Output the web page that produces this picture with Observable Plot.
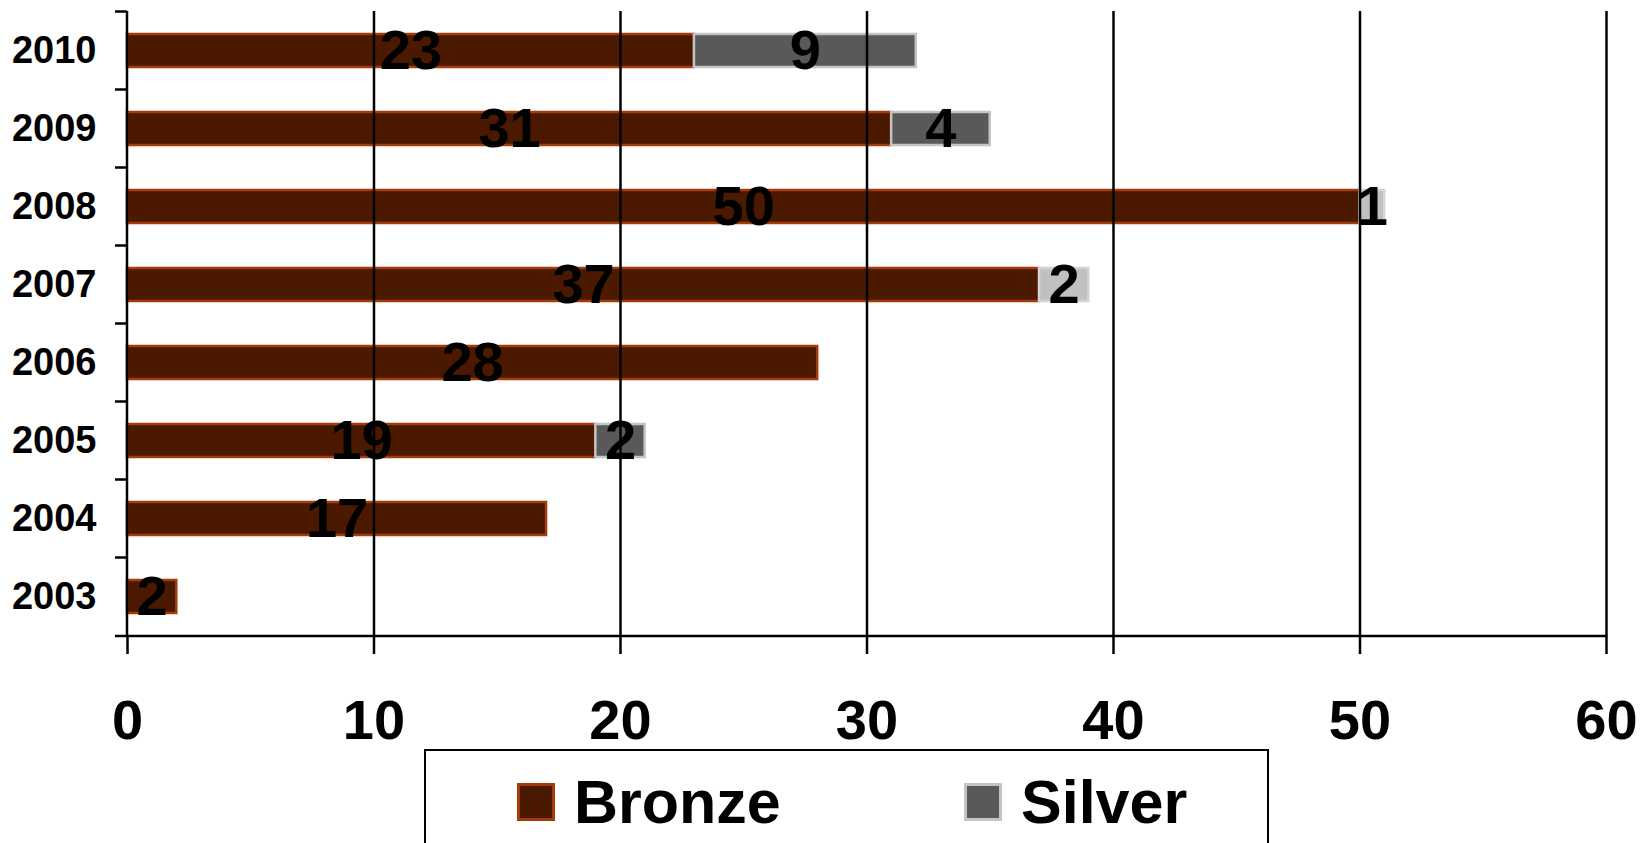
<!DOCTYPE html>
<html>
<head>
<meta charset="utf-8">
<script src="https://cdn.jsdelivr.net/npm/d3@7"></script>
<script src="https://cdn.jsdelivr.net/npm/@observablehq/plot@0.6"></script>
<style>
  html, body { margin: 0; padding: 0; background: #fff; overflow: hidden; }
  body { width: 1648px; height: 843px; position: relative; font-family: "Liberation Sans", Arial, sans-serif; }
  #chart svg { display: block; overflow: visible; }
  #legend { position: absolute; left: 424px; top: 749px; width: 841px; height: 120px; border: 2px solid #000; background: #fff; }
  .item { position: absolute; top: 16px; display: flex; align-items: center; font-weight: bold; font-size: 61px; color: #000; }
  .sw { width: 32px; height: 32px; margin-right: 19px; box-sizing: content-box; }
</style>
</head>
<body>
<div id="chart"></div>
<div id="legend">
  <div class="item" style="left:91px"><span class="sw" style="background:#4b1900;border:3px solid #a33b0a"></span>Bronze</div>
  <div class="item" style="left:538px"><span class="sw" style="background:#595959;border:3px solid #c4c4c4"></span>Silver</div>
</div>
<script>
const years = ["2010", "2009", "2008", "2007", "2006", "2005", "2004", "2003"];
const bronze = [23, 31, 50, 37, 28, 19, 17, 2];
const silver = [9, 4, 1, 2, 0, 2, 0, 0];
const seriesNames = ["Bronze", "Silver"];
const xTicks = [0, 10, 20, 30, 40, 50, 60];

// style constants
const lightSilverYears = ["2008", "2007"];
const fills = {Bronze: "#4b1900", Silver: "#595959", SilverLight: "#c0c0c0"};
const strokes = {Bronze: "#a33b0a", Silver: "#c4c4c4", SilverLight: "#d4d4d4"};

const data = [];
years.forEach((y, i) => {
  data.push({year: y, series: "Bronze", value: bronze[i]});
  data.push({year: y, series: "Silver", value: silver[i]});
});
const shown = data.filter(d => d.value > 0);
const key = d => d.series === "Silver" && lightSilverYears.includes(d.year) ? "SilverLight" : d.series;

function frameLines(index, scales, values, dims) {
  const y = scales.y, x = scales.x;
  const step = y.step(), bw = y.bandwidth();
  const x0 = x(0), xEnd = x(xTicks[xTicks.length - 1]);
  const top = dims.marginTop, bottom = dims.height - dims.marginBottom;
  const g = d3.create("svg:g").attr("stroke", "#000").attr("stroke-width", 2.5).attr("fill", "none");
  y.domain().forEach(yr => {
    const b = y(yr) + bw / 2 - step / 2;
    g.append("line").attr("x1", x0 - 12).attr("x2", x0).attr("y1", b).attr("y2", b);
  });
  g.append("line").attr("x1", x0 - 12).attr("x2", xEnd).attr("y1", bottom).attr("y2", bottom);
  g.append("line").attr("x1", x0).attr("x2", x0).attr("y1", top).attr("y2", bottom);
  return g.node();
}

const chart = Plot.plot({
  width: 1648,
  height: 749,
  marginLeft: 127,
  marginRight: 42,
  marginTop: 11,
  marginBottom: 113,
  style: {background: "#fff", color: "#000", fontFamily: "'Liberation Sans', Arial, sans-serif"},
  x: {domain: [0, 60], label: null},
  y: {domain: years, paddingInner: 0.58, paddingOuter: 0.29, label: null},
  marks: [
    Plot.barX(shown, Plot.stackX({
      x: "value", y: "year", z: "series",
      fill: d => fills[key(d)], stroke: d => strokes[key(d)], strokeWidth: 2.5
    })),
    Plot.gridX(xTicks.slice(1), {stroke: "#000", strokeOpacity: 1, strokeWidth: 2.5}),
    frameLines,
    Plot.text(shown, Plot.stackX({
      x: "value", y: "year", z: "series", text: d => String(d.value),
      fontSize: 56, fontWeight: "bold", fill: "#000"
    })),
    Plot.axisX(xTicks, {tickSize: 18, tickPadding: 45, fontSize: 56, fontWeight: "bold", strokeWidth: 2.5, label: null}),
    Plot.axisY({tickSize: 0, tickPadding: 31, fontSize: 38, fontWeight: "bold", label: null})
  ]
});
document.getElementById("chart").appendChild(chart);
</script>
</body>
</html>
